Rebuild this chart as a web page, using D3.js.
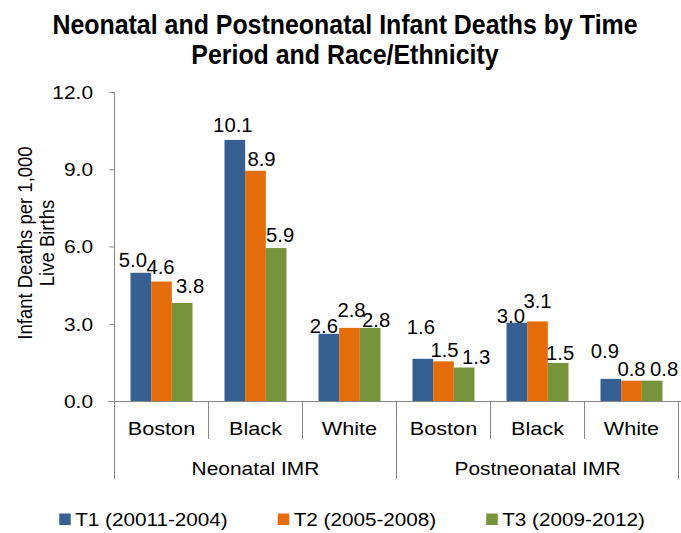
<!DOCTYPE html>
<html>
<head>
<meta charset="utf-8">
<script src="https://cdn.jsdelivr.net/npm/d3@7"></script>
<style>
  body { margin: 0; background: #fff; }
  text { font-family: "Liberation Sans", Arial, sans-serif; fill: #000; }
</style>
</head>
<body>
<svg id="chart" width="681" height="533"></svg>
<script>
const groups = ["Neonatal IMR", "Postneonatal IMR"];
const races = ["Boston", "Black", "White"];
const periods = ["T1 (20011-2004)", "T2 (2005-2008)", "T3 (2009-2012)"];
// one value per group/race, in the order Neonatal Boston..White, Postneonatal Boston..White
const t1 = [4.98, 10.14, 2.61, 1.64, 3.04, 0.86];
const t2 = [4.64, 8.94, 2.84, 1.54, 3.09, 0.79];
const t3 = [3.81, 5.94, 2.84, 1.30, 1.48, 0.79];
const yTicks = [0, 3, 6, 9, 12];

// excel shoved some data labels around so they don't collide, [dx, dy]
const labelNudge = [
    [[-8, 0], [-2, -2], [-5, 5], [-2, -19], [-6, 6], [-6, -15]],
    [[-1, -2], [6, 1], [2, -5], [1, 2], [0, -7], [0, 1]],
    [[8, -4], [4, 0], [6, 5], [12, 2], [2, 3], [12, 1]]
];

const svg = d3.select("#chart");
const axisColor = "#868686";
const colors = ["#376092", "#e46c0a", "#77933c"];
const sx = 1.1; // the source picture is a bit wider than tall

function stretch(sel, k) {
    sel.attr("transform", function () {
        const t = d3.select(this);
        const px = +t.attr("x") || 0, py = +t.attr("y") || 0;
        return `translate(${px},${py}) scale(${k},1) translate(${-px},${-py})`;
    });
}

const keys = groups.flatMap(g => races.map(r => g + "|" + r));
const x = d3.scaleBand().domain(keys).range([114.5, 678.5]);
const xs = d3.scaleBand().domain(d3.range(periods.length)).range([16, x.bandwidth() - 16]);
const y = d3.scaleLinear().domain([0, 12]).range([401, 92]);
const series = [t1, t2, t3];

// title
const title = svg.append("g").style("font-weight", "bold").style("font-size", "28px");
["Neonatal and Postneonatal Infant Deaths by Time", "Period and Race/Ethnicity"].forEach((t, i) => {
    title.append("text")
        .attr("x", 345).attr("y", 34 + i * 30)
        .attr("text-anchor", "middle")
        .text(t)
        .call(stretch, 0.89);
});

// y axis
const yAxis = svg.append("g")
    .attr("transform", "translate(114.5,0)")
    .call(d3.axisLeft(y).tickValues(yTicks).tickFormat(d3.format(".1f")).tickSize(5).tickSizeOuter(0));
yAxis.select(".domain").remove();
yAxis.selectAll(".tick line").attr("stroke", axisColor);
yAxis.selectAll(".tick text")
    .attr("x", -21.5).attr("y", 0).attr("dy", "0.34em")
    .style("font-size", "19px").attr("font-family", null)
    .call(stretch, sx);
yAxis.attr("font-size", null).attr("font-family", null);

svg.append("line")
    .attr("x1", 114.5).attr("x2", 114.5)
    .attr("y1", y(12)).attr("y2", y(0))
    .attr("stroke", axisColor);

// y axis title
["Infant Deaths per 1,000", "Live Births"].forEach((t, i) => {
    svg.append("text")
        .attr("transform", `translate(${32 + i * 22},243) scale(${sx},1) rotate(-90)`)
        .attr("text-anchor", "middle")
        .style("font-size", "18.5px")
        .text(t);
});

// bars
const cells = keys.flatMap((k, i) => series.map((s, j) => ({ key: k, s: j, v: s[i], n: labelNudge[j][i] })));

svg.append("g").selectAll("rect")
    .data(cells)
    .join("rect")
    .attr("x", d => x(d.key) + xs(d.s))
    .attr("width", xs.bandwidth())
    .attr("y", d => y(d.v))
    .attr("height", d => y(0) - y(d.v))
    .attr("fill", d => colors[d.s]);

svg.append("g").selectAll("text")
    .data(cells)
    .join("text")
    .attr("x", d => x(d.key) + xs(d.s) + xs.bandwidth() / 2 + d.n[0])
    .attr("y", d => y(d.v) - 6 + d.n[1])
    .attr("text-anchor", "middle")
    .style("font-size", "19.5px")
    .text(d => d3.format(".1f")(d.v))
    .call(stretch, 1.04);

// category axis, two levels like excel
svg.append("line")
    .attr("x1", 108).attr("x2", 681)
    .attr("y1", y(0) + 0.5).attr("y2", y(0) + 0.5)
    .attr("stroke", axisColor);

const edges = d3.range(keys.length + 1);
svg.append("g").selectAll("line")
    .data(edges)
    .join("line")
    .attr("x1", i => x.range()[0] + i * x.step())
    .attr("x2", i => x.range()[0] + i * x.step())
    .attr("y1", y(0))
    .attr("y2", i => i % races.length === 0 ? 479 : 439)
    .attr("stroke", axisColor);

svg.append("g").selectAll("text")
    .data(keys)
    .join("text")
    .attr("x", k => x(k) + x.bandwidth() / 2)
    .attr("y", 435)
    .attr("text-anchor", "middle")
    .style("font-size", "19px")
    .text(k => k.split("|")[1])
    .call(stretch, 1.14);

svg.append("g").selectAll("text")
    .data(groups)
    .join("text")
    .attr("x", g => (x(g + "|" + races[0]) + x(g + "|" + races[races.length - 1]) + x.bandwidth()) / 2)
    .attr("y", 475)
    .attr("text-anchor", "middle")
    .style("font-size", "19px")
    .text(g => g)
    .call(stretch, sx);

// legend
const legend = svg.append("g");
const lsx = 1.15;
let lx = 0;
periods.forEach((p, i) => {
    const item = legend.append("g").attr("transform", `translate(${lx},0)`);
    item.append("rect")
        .attr("x", 0).attr("y", 513.5)
        .attr("width", 11.5).attr("height", 11.5)
        .attr("fill", colors[i]);
    const t = item.append("text")
        .attr("x", 16).attr("y", 526)
        .style("font-size", "18px")
        .text(p)
        .call(stretch, lsx);
    lx += 16 + t.node().getComputedTextLength() * lsx + 50;
});
const lb = legend.node().getBBox();
legend.attr("transform", `translate(${352 - (lb.x + lb.width / 2)},0)`);
</script>
</body>
</html>
